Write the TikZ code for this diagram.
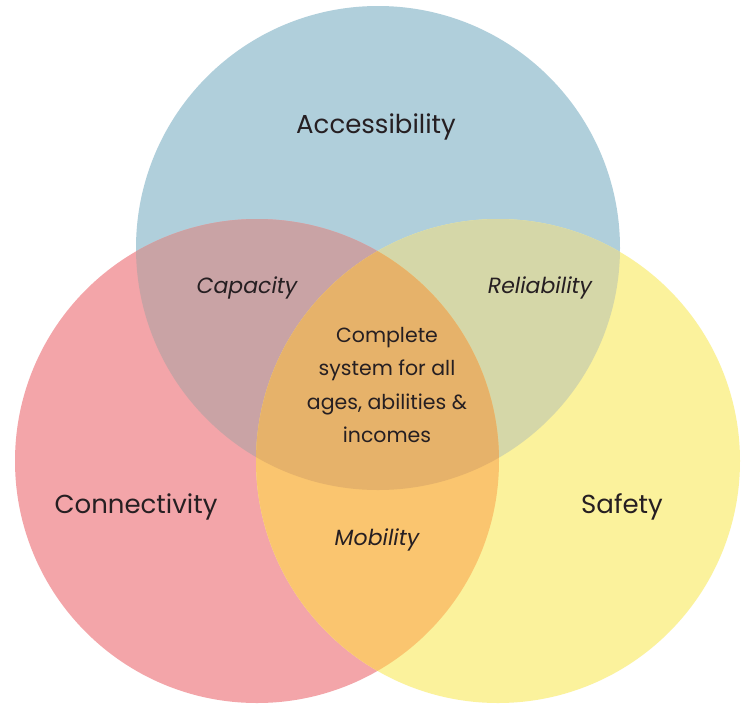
\documentclass[tikz,border=0pt]{standalone}
\usepackage{fontspec}
\setmainfont{Poppins}
\definecolor{cblue}{HTML}{B0CFDB}
\definecolor{cpink}{HTML}{F3A5A9}
\definecolor{cyellow}{HTML}{FBF29C}
\definecolor{cmauve}{HTML}{C9A3A5}
\definecolor{cgreen}{HTML}{D5D7A8}
\definecolor{corange}{HTML}{FAC56F}
\definecolor{ccenter}{HTML}{E6B26A}
\definecolor{ctext}{HTML}{261F22}
\tikzset{
  biglabel/.style={text=ctext, font=\fontsize{26}{30}\selectfont, inner sep=0pt},
  midlabel/.style={text=ctext, font=\fontsize{22}{26}\selectfont\itshape, inner sep=0pt},
  cenlabel/.style={text=ctext, font=\fontsize{20.5}{33.5}\selectfont, align=center, inner sep=0pt},
}
\begin{document}
\begin{tikzpicture}[x=1pt,y=-1pt]
\useasboundingbox (0,0) rectangle (748,705);
\fill[white] (0,0) rectangle (748,705);
\def\blue{(378,248) circle[radius=242pt]}
\def\pink{(257,461) circle[radius=242pt]}
\def\yellow{(498,461) circle[radius=242pt]}
\fill[cblue] \blue;
\fill[cpink] \pink;
\fill[cyellow] \yellow;
\begin{scope}
  \clip \blue;
  \fill[cmauve] \pink;
  \fill[cgreen] \yellow;
\end{scope}
\begin{scope}
  \clip \pink;
  \fill[corange] \yellow;
  \clip \blue;
  \fill[ccenter] \yellow;
\end{scope}
\node[biglabel] (acc) at (376,127) {Accessibility};
\node[midlabel] (cap) at (247,288) {Capacity};
\node[midlabel] (rel) at (540,288) {Reliability};
\node[cenlabel] (cen) at (387,385) {Complete\\system for all\\ages, abilities \&\\incomes};
\node[biglabel] (con) at (136,507) {Connectivity};
\node[midlabel] (mob) at (377,540) {Mobility};
\node[biglabel] (saf) at (622,507) {Safety};
\end{tikzpicture}
\end{document}
